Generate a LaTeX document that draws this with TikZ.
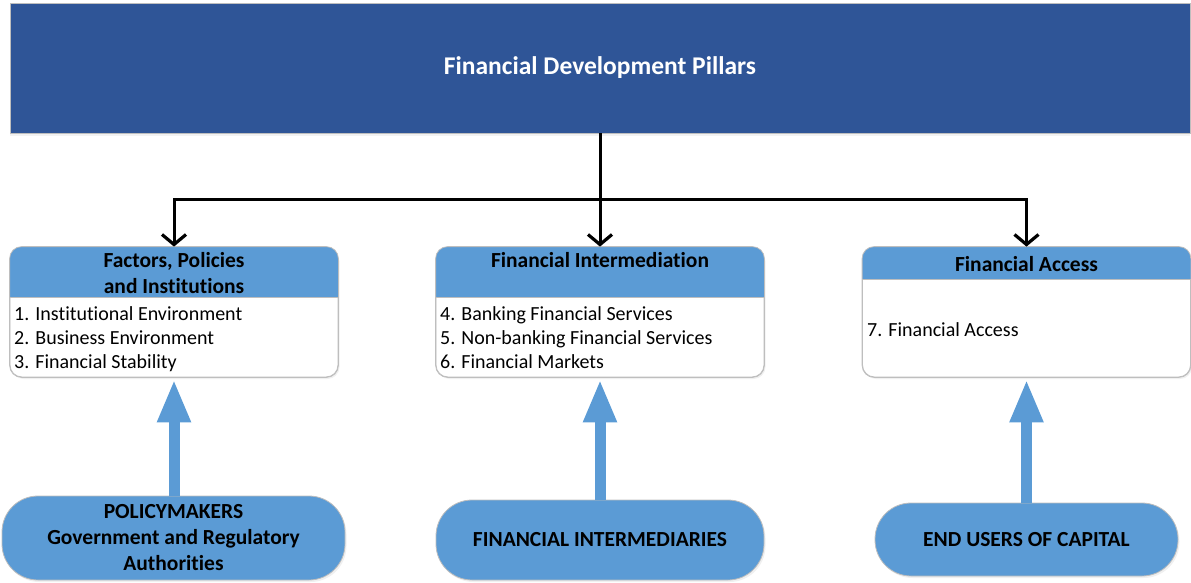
\documentclass[tikz,border=0pt]{standalone}
\usepackage{fontspec}
\setmainfont{Carlito}[Ligatures={NoCommon}]
\usetikzlibrary{arrows.meta,shadows,positioning}
\definecolor{banner}{RGB}{47,85,151}
\definecolor{hdr}{RGB}{91,155,213}
\definecolor{edge}{RGB}{190,190,190}
\tikzset{
  boxbody/.style={rectangle, rounded corners=12pt, draw=edge, line width=0.8pt, fill=white,
    minimum width=328pt, minimum height=130pt, inner sep=0pt,
    drop shadow={opacity=0.12, shadow xshift=1.5pt, shadow yshift=-2pt}},
  hdrtext/.style={font=\fontsize{21.5}{26}\selectfont\bfseries, align=center, inner sep=0pt},
  bodytext/.style={font=\fontsize{20}{24}\selectfont, align=left, inner sep=0pt, anchor=north west},
  pill/.style={rectangle, rounded corners=36pt, draw=edge, line width=0.8pt, fill=hdr, inner sep=0pt,
    font=\fontsize{21.5}{26}\selectfont\bfseries, align=center,
    drop shadow={opacity=0.12, shadow xshift=1.5pt, shadow yshift=-2pt}},
  blackarrow/.style={line width=3pt, -{Straight Barb[length=10pt, width=24pt, line width=3.2pt]}},
  bluearrow/.style={line width=11pt, draw=hdr, -{Triangle[length=43pt, width=31pt]}, shorten >=0pt},
}
\begin{document}
\begin{tikzpicture}[x=1pt, y=-1pt]
\useasboundingbox (0,0) rectangle (1191,583);

% banner
\node[rectangle, fill=banner, draw=edge, line width=0.8pt, minimum width=1180pt, minimum height=130pt,
  inner sep=0pt, text=white, font=\fontsize{25.5}{30}\selectfont\bfseries,
  drop shadow={opacity=0.10, shadow xshift=0pt, shadow yshift=-3pt}]
  (banner) at (600,68) {\raisebox{-2pt}{Financial Development Pillars}};

% boxes
\node[boxbody] (b1) at (174,312) {};
\node[boxbody] (b2) at (600,312) {};
\node[boxbody] (b3) at (1026.5,312) {};

\begin{scope}
  \clip[rounded corners=12pt] (b1.north west) rectangle (b1.south east);
  \fill[hdr] (b1.north west) rectangle ([yshift=-51pt]b1.north east);
\end{scope}
\begin{scope}
  \clip[rounded corners=12pt] (b2.north west) rectangle (b2.south east);
  \fill[hdr] (b2.north west) rectangle ([yshift=-51pt]b2.north east);
\end{scope}
\begin{scope}
  \clip[rounded corners=12pt] (b3.north west) rectangle (b3.south east);
  \fill[hdr] (b3.north west) rectangle ([yshift=-33pt]b3.north east);
\end{scope}
\draw[edge, line width=0.8pt] ([yshift=-51pt]b1.north west) -- ([yshift=-51pt]b1.north east);
\draw[edge, line width=0.8pt] ([yshift=-51pt]b2.north west) -- ([yshift=-51pt]b2.north east);
\draw[edge, line width=0.8pt] ([yshift=-33pt]b3.north west) -- ([yshift=-33pt]b3.north east);
\draw[edge, line width=0.8pt, rounded corners=12pt] (b1.north west) rectangle (b1.south east);
\draw[edge, line width=0.8pt, rounded corners=12pt] (b2.north west) rectangle (b2.south east);
\draw[edge, line width=0.8pt, rounded corners=12pt] (b3.north west) rectangle (b3.south east);

\node[hdrtext] (h1) at (174,273) {Factors, Policies\\and Institutions};
\node[hdrtext] (h2) at (600,260) {Financial Intermediation};
\node[hdrtext] (h3) at (1026.5,264) {Financial Access};

\node[bodytext] (t1) at (14,306) {1. Institutional Environment\\2. Business Environment\\3. Financial Stability};
\node[bodytext] (t2) at (440,306) {4. Banking Financial Services\\5. Non-banking Financial Services\\6. Financial Markets};
\node[bodytext] (t3) at (867,322) {7. Financial Access};

% bottom pills
\node[pill, minimum width=343pt, minimum height=84pt] (p1) at (173.5,538) {POLICYMAKERS\\Government and Regulatory\\Authorities};
\node[pill, minimum width=328pt, minimum height=80pt] (p2) at (600,540) {FINANCIAL INTERMEDIARIES};
\node[pill, minimum width=303pt, minimum height=73pt] (p3) at (1026.5,539.5) {END USERS OF CAPITAL};

% black connectors
\coordinate (j) at (600,199);
\draw[line width=3pt] (banner.south) -- (j);
\draw[blackarrow] (j) -| (b1.north);
\draw[blackarrow] (j) -- (b2.north);
\draw[blackarrow] (j) -| (b3.north);

% blue arrows
\draw[bluearrow] (p1.north -| b1.south) -- ([yshift=-2pt]b1.south);
\draw[bluearrow] (p2.north) -- ([yshift=-2pt]b2.south);
\draw[bluearrow] (p3.north -| b3.south) -- ([yshift=-2pt]b3.south);
\end{tikzpicture}
\end{document}
